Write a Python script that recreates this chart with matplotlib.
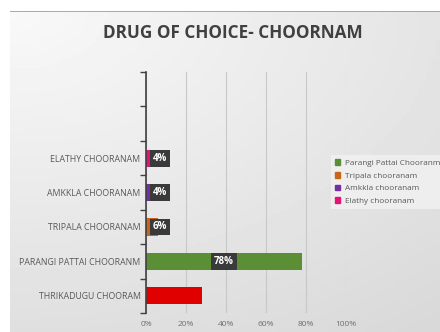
import matplotlib.pyplot as plt
import numpy as np

plt.rcParams['font.family'] = ['Open Sans', 'DejaVu Sans']

# data, bottom to top
drugs = ['THRIKADUGU CHOORAM', 'PARANGI PATTAI CHOORANM', 'TRIPALA CHOORANAM',
         'AMKKLA CHOORANAM', 'ELATHY CHOORANAM']
values = [28, 78, 6, 4, 4]
labels = [None, '78%', '6%', '4%', '4%']
colors = ['#e00000', '#5a8f35', '#c8651b', '#7030a0', '#e6127a']
legend_names = ['Parangi Pattai Chooranm', 'Tripala chooranam',
                'Amkkla chooranam', 'Elathy chooranam']
xticks = [0, 20, 40, 60, 80, 100]
n_slots = 7

fig = plt.figure(figsize=(4.4, 3.32), dpi=100)
fig.patch.set_facecolor('white')

# gradient background panel
bg = fig.add_axes([0.023, 0, 0.977, 0.967], zorder=-5)
yy, xx = np.mgrid[0:1:100j, 0:1:100j]
grad = 0.975 - 0.10 * np.sqrt((xx * 0.8) ** 2 + (yy * 1.0) ** 2)
bg.imshow(grad, cmap='gray', vmin=0, vmax=1, aspect='auto', extent=[0, 1, 0, 1])
bg.axhline(1, color='#9a9a9a', lw=1.2)
bg.set_axis_off()

ax = fig.add_axes([0.332, 0.057, 0.454, 0.726])
ax.set_facecolor('none')
ypos = np.arange(len(drugs))
ax.barh(ypos, values, height=0.5, color=colors, zorder=3)
ax.set_xlim(0, 100)
ax.set_ylim(-0.5, n_slots - 0.5)
ax.set_yticks(ypos)
ax.set_yticklabels(drugs, fontsize=6.3, color='#595959')
ax.set_yticks(np.arange(-0.5, n_slots, 1), minor=True)
ax.tick_params(axis='y', which='major', length=0, pad=4)
ax.tick_params(axis='y', which='minor', length=4, color='#404040', width=1)
ax.set_xticks(xticks)
ax.set_xticklabels([f'{t}%' for t in xticks], fontsize=6, color='#707070')
ax.tick_params(axis='x', length=0, pad=6)
ax.grid(axis='x', color='#c8c8c8', lw=0.8, zorder=0)
for s in ['top', 'right', 'bottom']:
    ax.spines[s].set_visible(False)
ax.spines['left'].set_color('#404040')
ax.spines['left'].set_linewidth(1.2)
ax.spines['left'].set_zorder(4)

for y, v, lab in zip(ypos, values, labels):
    if lab is None:
        continue
    ax.text(max(v / 2, 7), y, lab, ha='center', va='center', fontsize=7,
            color='white', fontweight='bold', zorder=5,
            bbox=dict(boxstyle='square,pad=0.3', fc='#3a3a3a', ec='none'))

handles = [plt.Rectangle((0, 0), 1, 1, color=c) for c in colors[1:]]
leg = fig.legend(handles, legend_names, loc='upper left',
                 bbox_to_anchor=(0.742, 0.545), fontsize=5.9, frameon=True,
                 handlelength=0.7, handleheight=0.7, handletextpad=0.5,
                 labelspacing=0.6, borderpad=0.5, fancybox=False)
leg.get_frame().set_facecolor('#f2f2f2')
leg.get_frame().set_edgecolor('none')
for t in leg.get_texts():
    t.set_color('#595959')

fig.text(0.53, 0.9, 'DRUG OF CHOICE- CHOORNAM', ha='center', va='center',
         fontsize=12.3, fontweight='bold', color='#404040')

fig.savefig('out.png', dpi=100)
